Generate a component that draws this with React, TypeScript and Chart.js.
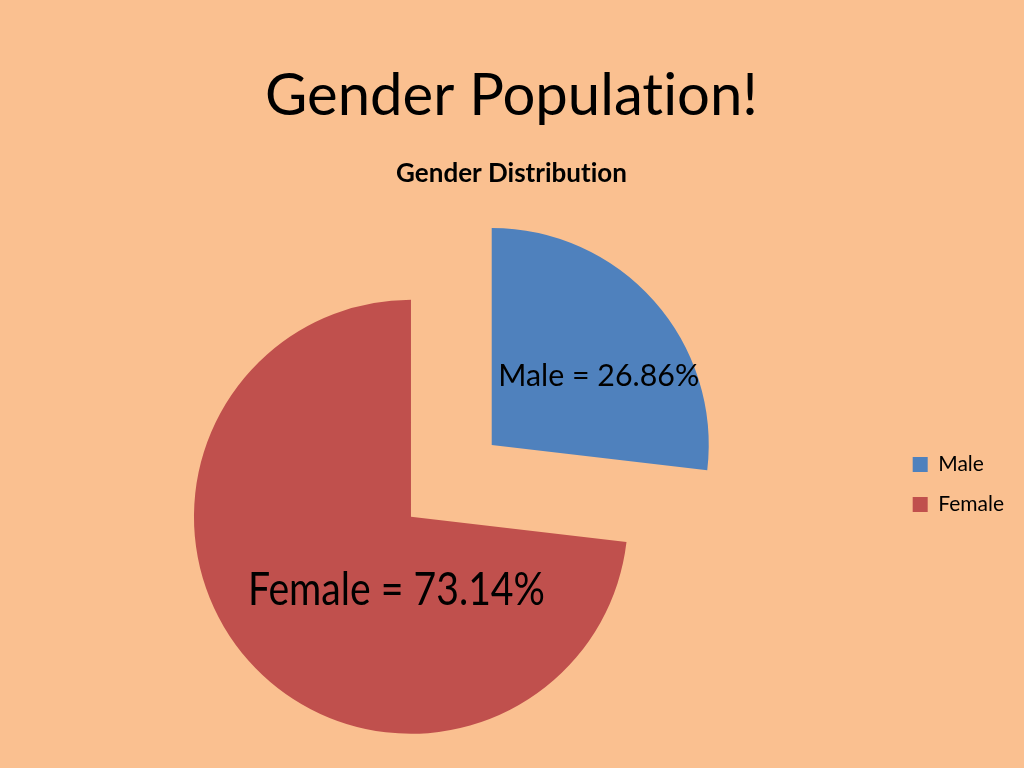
import React, { useEffect, useRef } from "react";
import { Chart, registerables } from "chart.js";

Chart.register(...registerables);

// ---- data ----
const categories: string[] = ["Male", "Female"];
const shares: number[] = [26.86, 73.14];
const sliceColors: string[] = ["#4F81BD", "#C0504D"];
const slideTitle = "Gender Population!";
const chartTitle = "Gender Distribution";

// ---- style ----
const BG = "#FAC090";
const FONT = "Lato, 'Open Sans', sans-serif";
const PIE_RADIUS = 217;
const EXPLODE_RATIO = 0.249; // fraction of radius each slice is pulled out
const CANVAS_H = 773;

// label placement relative to the (exploded) slice centre, in px
const labelStyle = [
  { size: 30, width: 201, dx: 107, dy: -59 },
  { size: 46, width: 297, dx: -14.5, dy: 88.3 },
];

const noLigaturePlugin = {
  id: "noLigatures",
  beforeDraw(chart: any) {
    try {
      (chart.ctx as any).textRendering = "optimizeSpeed";
    } catch (e) {
      /* ignore */
    }
  },
};

const explodePlugin = {
  id: "explode",
  afterDatasetsUpdate(chart: any) {
    const meta = chart.getDatasetMeta(0);
    meta.data.forEach((arc: any) => {
      const mid = (arc.startAngle + arc.endAngle) / 2;
      const d = arc.outerRadius * EXPLODE_RATIO;
      arc.x += Math.cos(mid) * d;
      arc.y += Math.sin(mid) * d;
    });
  },
};

const sliceLabelPlugin = {
  id: "sliceLabels",
  afterDatasetsDraw(chart: any) {
    const ctx: CanvasRenderingContext2D = chart.ctx;
    const meta = chart.getDatasetMeta(0);
    meta.data.forEach((arc: any, i: number) => {
      const st = labelStyle[i];
      const text = `${categories[i]} = ${shares[i].toFixed(2)}%`;
      ctx.save();
      ctx.font = `${st.size}px ${FONT}`;
      ctx.fillStyle = "#000";
      ctx.textAlign = "center";
      ctx.textBaseline = "alphabetic";
      const w = ctx.measureText(text).width;
      const sx = st.width / w;
      ctx.translate(arc.x + st.dx, arc.y + st.dy);
      ctx.scale(sx, 1);
      ctx.fillText(text, 0, 0);
      ctx.restore();
    });
  },
};

export default function App() {
  const ref = useRef<HTMLCanvasElement | null>(null);

  useEffect(() => {
    if (!ref.current) return;
    const chart = new Chart(ref.current, {
      type: "pie",
      data: {
        labels: categories,
        datasets: [
          {
            data: shares,
            backgroundColor: sliceColors,
            borderWidth: 0,
            borderColor: "rgba(0,0,0,0)",
          },
        ],
      },
      options: {
        animation: false,
        responsive: true,
        maintainAspectRatio: false,
        events: [],
        radius: PIE_RADIUS,
        layout: { padding: { left: 9, right: 10, top: 0, bottom: 0 } },
        plugins: {
          title: {
            display: true,
            text: slideTitle,
            color: "#000",
            font: { family: FONT, size: 58, weight: "normal" },
            padding: { top: 61, bottom: 0 },
          },
          subtitle: {
            display: true,
            text: chartTitle,
            color: "#000",
            font: { family: FONT, size: 26, weight: "bold" },
            padding: { top: 27, bottom: 0 },
          },
          legend: {
            display: true,
            position: "right",
            fullSize: false,
            title: {
              display: true,
              text: "",
              font: { family: FONT, size: 5 },
              padding: { top: 1, bottom: 0 },
            },
            labels: {
              color: "#000",
              boxWidth: 15,
              boxHeight: 15,
              padding: 19,
              font: { family: FONT, size: 21 },
            },
          },
          tooltip: { enabled: false },
        },
      } as any,
      plugins: [noLigaturePlugin, explodePlugin, sliceLabelPlugin],
    });
    return () => chart.destroy();
  }, []);

  return (
    <div
      style={{
        position: "fixed",
        left: 0,
        top: 0,
        width: 1024,
        height: 768,
        overflow: "hidden",
        background: BG,
      }}
    >
      <div style={{ position: "absolute", left: 0, top: 0, width: 1024, height: CANVAS_H }}>
        <canvas ref={ref} />
      </div>
    </div>
  );
}
